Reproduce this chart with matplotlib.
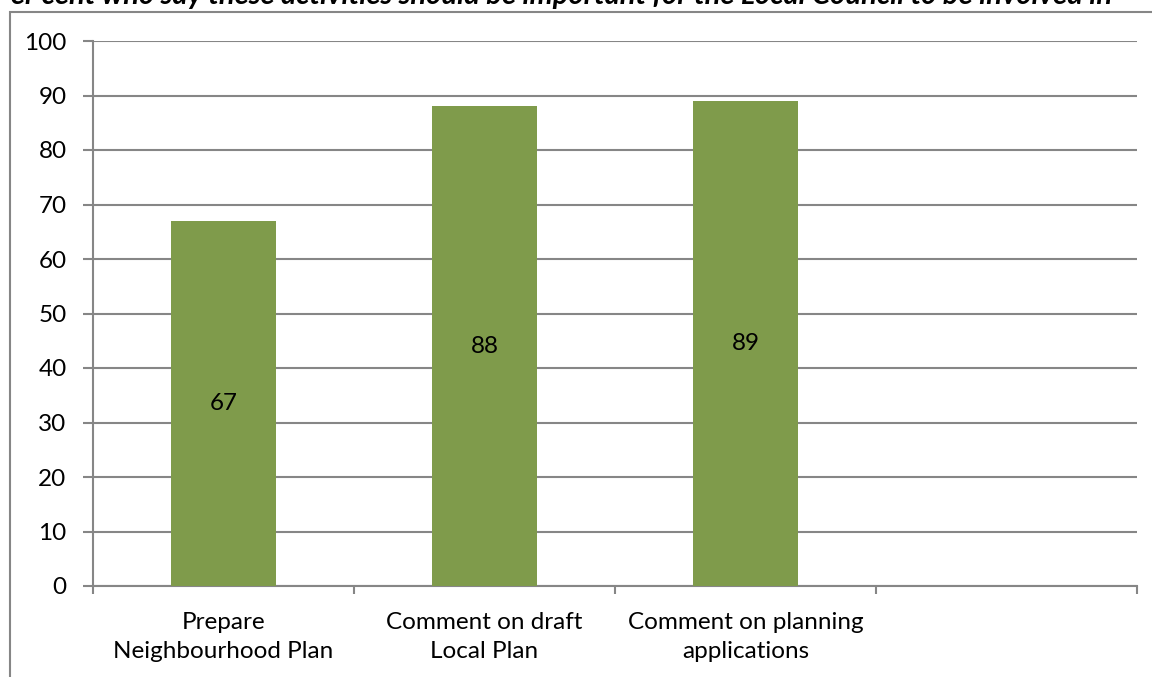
import matplotlib
matplotlib.use("Agg")
import matplotlib.pyplot as plt
from matplotlib.patches import Rectangle

plt.rcParams['font.family'] = ['Lato', 'DejaVu Sans']

categories = ["Prepare\nNeighbourhood Plan", "Comment on draft\nLocal Plan",
              "Comment on planning\napplications", ""]
values = [67, 88, 89, None]
y_ticks = list(range(0, 101, 10))
title = "Per cent who say these activities should be important for the Local Council to be involved in"

W, H = 1152, 677
fig = plt.figure(figsize=(W / 100, H / 100), dpi=100)

# outer chart frame (extends past the right and bottom edges)
fig.patches.append(Rectangle((10 / W, -0.2), 1.5, 0.2 + (H - 12) / H,
                             transform=fig.transFigure, fill=False,
                             edgecolor="#868686", linewidth=1.5, zorder=0))

fig.text(-6 / W, 1 - 4 / H, title, fontsize=21, fontweight="bold", fontstyle="italic",
         ha="left", va="baseline")

ax = fig.add_axes([93 / W, 1 - 586 / H, (1137 - 93) / W, (586 - 41) / H])

grid_c = "#868686"
n = len(categories)
xs = list(range(n))
bar_vals = [v if v is not None else 0 for v in values]
ax.bar(xs, bar_vals, width=0.4, color="#7F9B4B", zorder=3)
for x, v in zip(xs, values):
    if v is not None:
        ax.text(x, v / 2, str(v), ha="center", va="center", fontsize=17.5, zorder=4)

ax.set_xlim(-0.5, n - 0.5)
ax.set_ylim(0, 100)
ax.set_yticks(y_ticks)
ax.yaxis.grid(True, color=grid_c, linewidth=1.5, zorder=0)
ax.set_axisbelow(True)

for s in ["top", "right"]:
    ax.spines[s].set_visible(False)
for s in ["left", "bottom"]:
    ax.spines[s].set_color(grid_c)
    ax.spines[s].set_linewidth(1.5)

# category labels centred, tick marks on the category boundaries
ax.set_xticks([x - 0.5 for x in xs] + [n - 0.5])
ax.set_xticklabels([])
ax.set_xticks(xs, minor=True)
ax.set_xticklabels(categories, minor=True, fontsize=17.5, linespacing=1.45)
ax.tick_params(axis="x", which="major", length=6, width=1.5, color=grid_c, direction="out")
ax.tick_params(axis="x", which="minor", length=0, pad=19)
ax.tick_params(axis="y", length=7, width=1.5, color=grid_c, direction="out",
               labelsize=17.5, pad=12)

fig.savefig("out.png", dpi=100)
